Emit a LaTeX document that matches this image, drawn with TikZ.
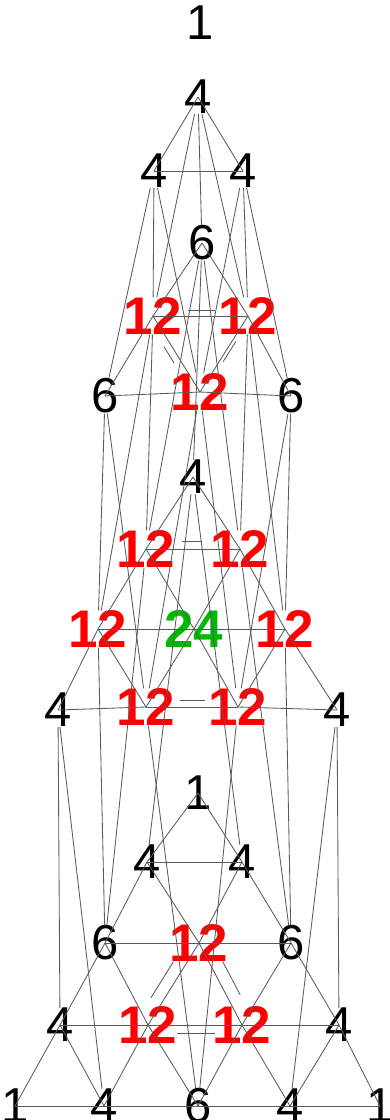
\documentclass[tikz,border=0pt]{standalone}
\usepackage{fontspec}
\setmainfont{Liberation Sans}
\definecolor{edgegray}{RGB}{90,90,90}
\definecolor{lblred}{RGB}{255,0,0}
\definecolor{lblgreen}{RGB}{0,185,0}
\tikzset{
  lbl/.style={inner sep=0pt, font=\fontsize{49}{49}\selectfont, text=black},
  red12/.style={lbl, font=\fontsize{53}{53}\selectfont\bfseries, text=lblred},
  grn24/.style={lbl, font=\fontsize{53}{53}\selectfont\bfseries, text=lblgreen},
  edge/.style={draw=edgegray, line width=0.85pt},
  dup/.style={draw=edgegray, line width=0.85pt}
}
\begin{document}
\begin{tikzpicture}[x=1pt,y=-1pt]
\useasboundingbox (0,0) rectangle (390,1120);
% layer d=4
\node[lbl] (n0004) at (200,23) {1};
% layer d=3
\node[lbl] (n0013) at (198,97) {4};
\node[lbl] (n1003) at (154,171) {4};
\node[lbl] (n0103) at (243,171) {4};
% layer d=2
\node[lbl] (n0022) at (202,243) {6};
\node[red12] (n1012) at (153,316) {12};
\node[red12] (n0112) at (248,316) {12};
\node[lbl] (n2002) at (105,396) {6};
\node[red12] (n1102) at (200,392) {12};
\node[lbl] (n0202) at (291,396) {6};
% layer d=1
\node[lbl] (n0031) at (193,477) {4};
\node[red12] (n1021) at (146,549) {12};
\node[red12] (n0121) at (240,549) {12};
\node[red12] (n2011) at (98,629) {12};
\node[grn24] (n1111) at (194,629) {24};
\node[red12] (n0211) at (285,629) {12};
\node[lbl] (n3001) at (58,710) {4};
\node[red12] (n2101) at (146,707) {12};
\node[red12] (n1201) at (238,707) {12};
\node[lbl] (n0301) at (337,710) {4};
% layer d=0
\node[lbl] (n0040) at (198,793) {1};
\node[lbl] (n1030) at (147,862) {4};
\node[lbl] (n0130) at (242,862) {4};
\node[lbl] (n2020) at (105,943) {6};
\node[red12] (n1120) at (199,943) {12};
\node[lbl] (n0220) at (291,943) {6};
\node[lbl] (n3010) at (60,1025) {4};
\node[red12] (n2110) at (148,1025) {12};
\node[red12] (n1210) at (242,1025) {12};
\node[lbl] (n0310) at (339,1025) {4};
\node[lbl] (n4000) at (15,1106) {1};
\node[lbl] (n3100) at (104,1106) {4};
\node[lbl] (n2200) at (198,1106) {6};
\node[lbl] (n1300) at (290,1106) {4};
\node[lbl] (n0400) at (380,1106) {1};
% edges inside a layer (centre to centre)
\foreach \a/\b in {0013/1003,0013/0103,1003/0103,
  0022/1012,0022/0112,1012/0112,1012/2002,1012/1102,0112/1102,0112/0202,2002/1102,1102/0202,
  0031/1021,0031/0121,1021/0121,1021/2011,1021/1111,0121/1111,0121/0211,2011/1111,1111/0211,
  2011/3001,2011/2101,1111/2101,1111/1201,0211/1201,0211/0301,3001/2101,2101/1201,1201/0301,
  0040/1030,0040/0130,1030/0130,1030/2020,1030/1120,0130/1120,0130/0220,2020/1120,1120/0220,
  2020/3010,2020/2110,1120/2110,1120/1210,0220/1210,0220/0310,3010/2110,2110/1210,1210/0310,
  3010/4000,3010/3100,2110/3100,2110/2200,1210/2200,1210/1300,0310/1300,0310/0400,
  4000/3100,3100/2200,2200/1300,1300/0400}
  \draw[edge] (n\a.center) -- (n\b.center);
% edges between layers (border to border)
\foreach \a/\b in {0013/1012,0013/0112,0013/0022,
  1003/2002,1003/1102,1003/1012,0103/1102,0103/0202,0103/0112,
  0022/1021,0022/0121,0022/0031,1012/2011,1012/1021,
  0112/0211,0112/0121,2002/2101,2002/2011,
  1102/2101,1102/1201,0202/1201,0202/0211,
  0031/1030,0031/0130,1021/2020,0121/0220,2011/2020,0211/0220,
  2101/2200,1201/2200,3001/3010,3001/3100,0301/0310,0301/1300}
  \draw[edge] (n\a) -- (n\b);
% short second strokes between neighbouring 12s
\draw[dup, transform canvas={yshift=6pt}, shorten <=35pt, shorten >=33pt] (n1012.center) -- (n0112.center);
\draw[dup, transform canvas={yshift=8pt}, shorten <=36pt, shorten >=38pt] (n1021.center) -- (n0121.center);
\draw[dup, transform canvas={yshift=7pt}, shorten <=34pt, shorten >=33pt] (n2101.center) -- (n1201.center);
\draw[dup, transform canvas={yshift=-8pt}, shorten <=29pt, shorten >=27pt] (n2110.center) -- (n1210.center);
\draw[dup, transform canvas={xshift=-14pt}, shorten <=22pt, shorten >=32pt] (n1120.center) -- (n2110.center);
\draw[dup, transform canvas={xshift=14pt}, shorten <=21pt, shorten >=34pt] (n1120.center) -- (n1210.center);
\draw[dup, transform canvas={xshift=-8pt}, shorten <=36pt, shorten >=34pt] (n1012.center) -- (n1102.center);
\draw[dup, transform canvas={xshift=4pt}, shorten <=30pt, shorten >=36pt] (n0112.center) -- (n1102.center);
\end{tikzpicture}
\end{document}
